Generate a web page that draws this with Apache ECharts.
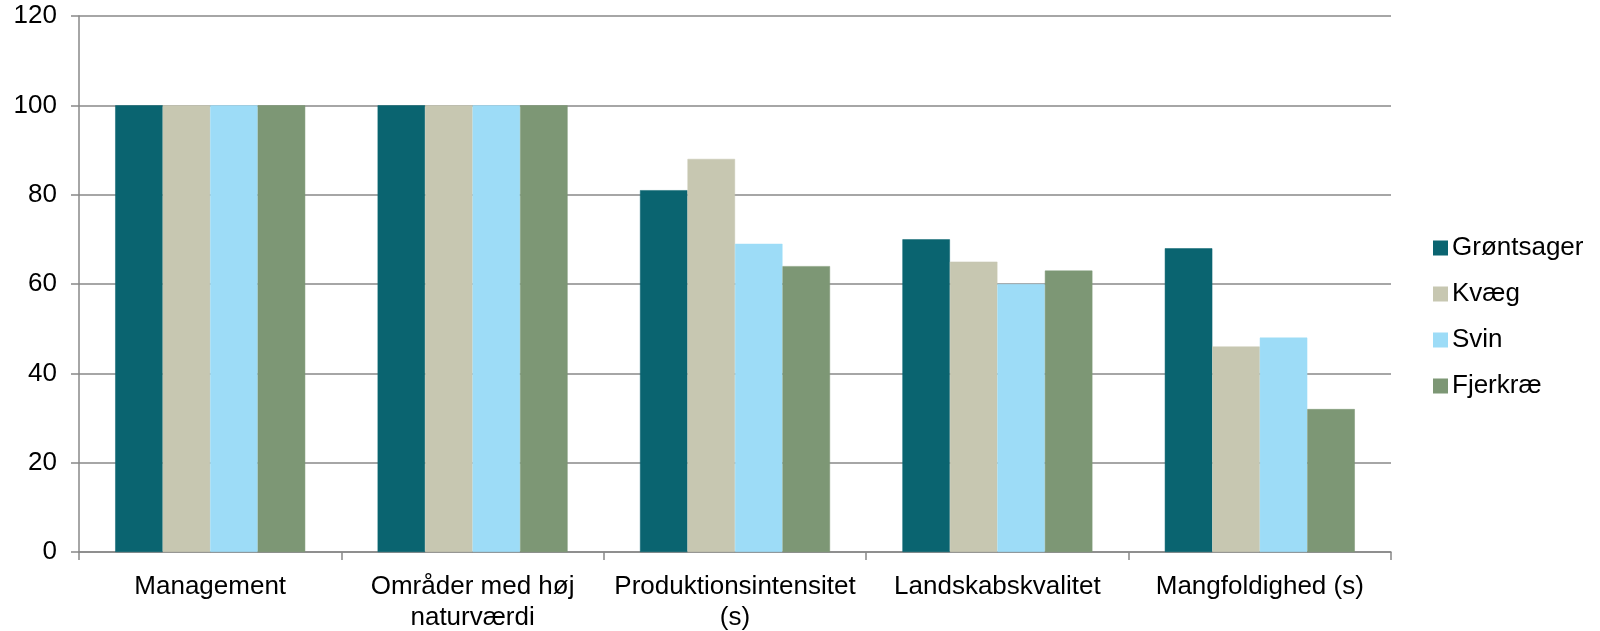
<!DOCTYPE html>
<html>
<head>
<meta charset="utf-8">
<script src="https://cdn.jsdelivr.net/npm/echarts@6/dist/echarts.min.js"></script>
<style>
html,body{margin:0;padding:0;background:#fff;}
#chart{width:1600px;height:631px;}
</style>
</head>
<body>
<div id="chart"></div>
<script>
const categories = ["Management", "Områder med høj\nnaturværdi", "Produktionsintensitet\n(s)", "Landskabskvalitet", "Mangfoldighed (s)"];
const seriesNames = ["Grøntsager", "Kvæg", "Svin", "Fjerkræ"];
const groentsager = [100, 100, 81, 70, 68];
const kvaeg = [100, 100, 88, 65, 46];
const svin = [100, 100, 69, 60, 48];
const fjerkrae = [100, 100, 64, 63, 32];
const colors = ["#0A6470", "#C7C7B1", "#9DDCF7", "#7D9775"];
const yTicks = [0, 20, 40, 60, 80, 100, 120];

const values = [groentsager, kvaeg, svin, fjerkrae];
const chart = echarts.init(document.getElementById('chart'), null, {renderer: 'canvas'});
const font = "'Liberation Sans', Arial, sans-serif";
chart.setOption({
  animation: false,
  color: colors,
  grid: {left: 79, right: 209, top: 16, bottom: 79, containLabel: false, outerBoundsMode: 'none'},
  legend: {
    orient: 'vertical',
    left: 1433,
    top: 235,
    padding: 0,
    itemWidth: 13,
    itemHeight: 13,
    itemGap: 20,
    icon: 'rect',
    textStyle: {fontFamily: font, fontSize: 26, color: '#000', lineHeight: 26, padding: [0,0,0,0]},
    data: seriesNames
  },
  xAxis: {
    type: 'category',
    data: categories,
    axisLine: {lineStyle: {color: '#888888', width: 1.5}},
    axisTick: {show: true, alignWithLabel: false, length: 8, lineStyle: {color: '#888888', width: 1.5}},
    axisLabel: {fontFamily: font, fontSize: 26, color: '#000', lineHeight: 31, margin: 19, interval: 0}
  },
  yAxis: {
    type: 'value',
    min: yTicks[0],
    max: yTicks[yTicks.length - 1],
    interval: 20,
    axisLine: {show: true, lineStyle: {color: '#888888', width: 1.5}},
    axisTick: {show: true, length: 8, lineStyle: {color: '#888888', width: 1.5}},
    splitLine: {lineStyle: {color: '#888888', width: 1.5}},
    axisLabel: {fontFamily: font, fontSize: 26, color: '#000', margin: 22}
  },
  series: seriesNames.map((name, i) => ({
    name: name,
    type: 'bar',
    data: values[i],
    barGap: '0%',
    barCategoryGap: '27.6%',
    itemStyle: {color: colors[i], borderColor: colors[i], borderWidth: 0.5}
  }))
});
</script>
</body>
</html>
